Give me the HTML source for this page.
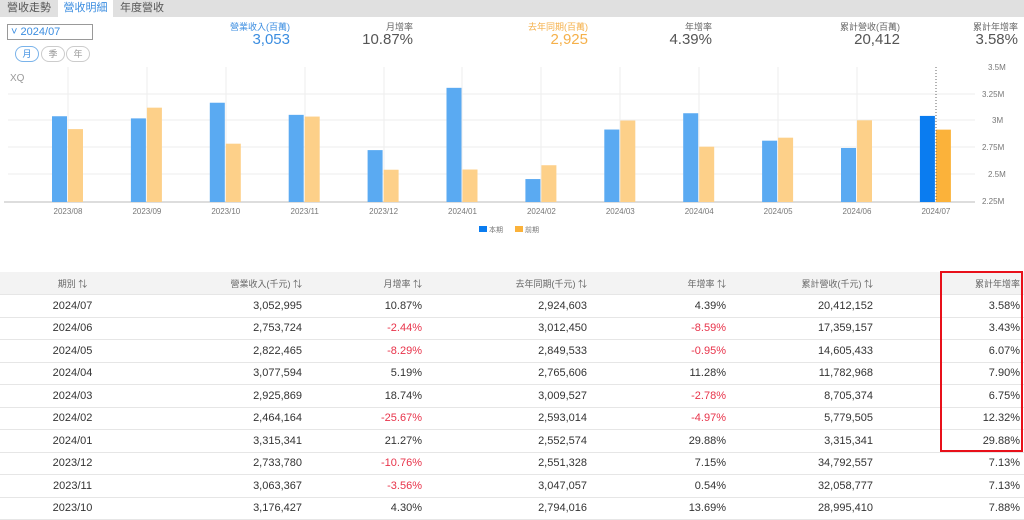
<!DOCTYPE html>
<html><head><meta charset="utf-8"><style>
body{margin:0;width:1024px;height:516px;overflow:hidden;background:#fff;font-family:"Liberation Sans","Noto Sans CJK TC",sans-serif;position:relative}
.a{position:absolute;white-space:nowrap}
.tabs{position:absolute;left:0;top:0;width:1024px;height:17px;background:#e0e0e0}
.tab{position:absolute;top:0;height:17px;line-height:17px;font-size:11px;color:#555;text-align:center}
.r{text-align:right}
.hdr{font-size:9px;color:#666}
.big{font-size:15px;color:#555}
table{position:absolute;left:0;top:272px;width:1024px;border-collapse:collapse;font-size:11px;color:#333}
td{height:21.5px;padding:0;border-bottom:1px solid #e6e6e6}
td:last-child{padding-right:4px}
tr.h td{background:#f3f3f3;font-size:9px;color:#666;height:22px}
.neg{color:#e8334a}
</style></head><body>
<div class="tabs">
<div class="tab" style="left:0;width:58px">營收走勢</div>
<div class="tab" style="left:58px;width:55px;background:#fff;color:#3b8de0">營收明細</div>
<div class="tab" style="left:113px;width:58px">年度營收</div>
</div>
<div class="a" style="left:7px;top:24px;width:84px;height:14px;border:1px solid #999;font-size:11px;line-height:14px;color:#3b8de0">&nbsp;˅ 2024/07</div>
<div class="a" style="left:15px;top:46px;width:22px;height:14px;border:1px solid #7ab3ea;border-radius:8px;font-size:9px;line-height:14px;text-align:center;color:#3b8de0">月</div>
<div class="a" style="left:41px;top:46px;width:22px;height:14px;border:1px solid #ccc;border-radius:8px;font-size:9px;line-height:14px;text-align:center;color:#999">季</div>
<div class="a" style="left:66px;top:46px;width:22px;height:14px;border:1px solid #ccc;border-radius:8px;font-size:9px;line-height:14px;text-align:center;color:#999">年</div>

<div class="a hdr r" style="left:190px;width:100px;top:20px;color:#3b8de0">營業收入(百萬)</div>
<div class="a big r" style="left:190px;width:100px;top:31px;color:#3b8de0">3,053</div>
<div class="a hdr r" style="left:313px;width:100px;top:20px">月增率</div>
<div class="a big r" style="left:313px;width:100px;top:31px">10.87%</div>
<div class="a hdr r" style="left:488px;width:100px;top:20px;color:#f5b04a">去年同期(百萬)</div>
<div class="a big r" style="left:488px;width:100px;top:31px;color:#f5b04a">2,925</div>
<div class="a hdr r" style="left:612px;width:100px;top:20px">年增率</div>
<div class="a big r" style="left:612px;width:100px;top:31px">4.39%</div>
<div class="a hdr r" style="left:800px;width:100px;top:20px">累計營收(百萬)</div>
<div class="a big r" style="left:800px;width:100px;top:31px">20,412</div>
<div class="a hdr r" style="left:918px;width:100px;top:20px">累計年增率</div>
<div class="a big r" style="left:918px;width:100px;top:31px">3.58%</div>

<svg class="a" style="left:0;top:0" width="1024" height="270" font-family="Liberation Sans,Noto Sans CJK TC,sans-serif">
<text x="10" y="81" font-size="10" fill="#999">XQ</text>
<g stroke="#eee">
<line x1="8" y1="94" x2="975" y2="94"/><line x1="8" y1="120" x2="975" y2="120"/><line x1="8" y1="147" x2="975" y2="147"/><line x1="8" y1="174" x2="975" y2="174"/>
<line x1="68" y1="67" x2="68" y2="201"/><line x1="147" y1="67" x2="147" y2="201"/><line x1="226" y1="67" x2="226" y2="201"/><line x1="305" y1="67" x2="305" y2="201"/><line x1="384" y1="67" x2="384" y2="201"/><line x1="462" y1="67" x2="462" y2="201"/><line x1="541" y1="67" x2="541" y2="201"/><line x1="620" y1="67" x2="620" y2="201"/><line x1="699" y1="67" x2="699" y2="201"/><line x1="778" y1="67" x2="778" y2="201"/><line x1="857" y1="67" x2="857" y2="201"/>
</g>
<line x1="4" y1="202" x2="975" y2="202" stroke="#bbb"/>
<g font-size="8" fill="#777">
<text x="988" y="70">3.5M</text><text x="982" y="97">3.25M</text><text x="992" y="123">3M</text><text x="982" y="150">2.75M</text><text x="988" y="177">2.5M</text><text x="982" y="204">2.25M</text>
</g>
<g id="bars"></g>
<line x1="936" y1="67" x2="936" y2="202" stroke="#666" stroke-dasharray="1,2"/>
<g font-size="8" fill="#777" text-anchor="middle" id="xl"></g>
<rect x="479" y="226" width="8" height="6" fill="#0a7cf0"/><text x="489" y="232" font-size="7" fill="#777">本期</text>
<rect x="515" y="226" width="8" height="6" fill="#fbb23a"/><text x="525" y="232" font-size="7" fill="#777">前期</text>
</svg>
<script>
var cur=[3.05,3.03,3.176,3.063,2.734,3.315,2.464,2.926,3.078,2.822,2.754,3.053];
var prv=[2.93,3.13,2.794,3.047,2.551,2.553,2.593,3.010,2.766,2.850,3.012,2.925];
var lab=["2023/08","2023/09","2023/10","2023/11","2023/12","2024/01","2024/02","2024/03","2024/04","2024/05","2024/06","2024/07"];
var s="",t="";
function y(v){return 202-(v-2.25)/0.25*26.8;}
for(var i=0;i<12;i++){var c=68+i*78.9;var l=i==11;
s+='<rect x="'+(c-16)+'" y="'+y(cur[i])+'" width="15" height="'+(202-y(cur[i]))+'" fill="'+(l?'#0a7cf0':'#5aaaf2')+'"/>';
s+='<rect x="'+(c)+'" y="'+y(prv[i])+'" width="15" height="'+(202-y(prv[i]))+'" fill="'+(l?'#fbb23a':'#fdd089')+'"/>';
t+='<text x="'+c+'" y="214">'+lab[i]+'</text>';}
document.getElementById('bars').innerHTML=s;document.getElementById('xl').innerHTML=t;
</script>

<table>
<colgroup><col style="width:145px"><col style="width:157px"><col style="width:120px"><col style="width:165px"><col style="width:139px"><col style="width:147px"><col style="width:151px"></colgroup>
<tr class="h"><td style="text-align:center">期別 ⇅</td><td class="r">營業收入(千元) ⇅</td><td class="r">月增率 ⇅</td><td class="r">去年同期(千元) ⇅</td><td class="r">年增率 ⇅</td><td class="r">累計營收(千元) ⇅</td><td class="r">累計年增率</td></tr>
<tr><td style="text-align:center">2024/07</td><td class="r">3,052,995</td><td class="r">10.87%</td><td class="r">2,924,603</td><td class="r">4.39%</td><td class="r">20,412,152</td><td class="r">3.58%</td></tr>
<tr><td style="text-align:center">2024/06</td><td class="r">2,753,724</td><td class="r neg">-2.44%</td><td class="r">3,012,450</td><td class="r neg">-8.59%</td><td class="r">17,359,157</td><td class="r">3.43%</td></tr>
<tr><td style="text-align:center">2024/05</td><td class="r">2,822,465</td><td class="r neg">-8.29%</td><td class="r">2,849,533</td><td class="r neg">-0.95%</td><td class="r">14,605,433</td><td class="r">6.07%</td></tr>
<tr><td style="text-align:center">2024/04</td><td class="r">3,077,594</td><td class="r">5.19%</td><td class="r">2,765,606</td><td class="r">11.28%</td><td class="r">11,782,968</td><td class="r">7.90%</td></tr>
<tr><td style="text-align:center">2024/03</td><td class="r">2,925,869</td><td class="r">18.74%</td><td class="r">3,009,527</td><td class="r neg">-2.78%</td><td class="r">8,705,374</td><td class="r">6.75%</td></tr>
<tr><td style="text-align:center">2024/02</td><td class="r">2,464,164</td><td class="r neg">-25.67%</td><td class="r">2,593,014</td><td class="r neg">-4.97%</td><td class="r">5,779,505</td><td class="r">12.32%</td></tr>
<tr><td style="text-align:center">2024/01</td><td class="r">3,315,341</td><td class="r">21.27%</td><td class="r">2,552,574</td><td class="r">29.88%</td><td class="r">3,315,341</td><td class="r">29.88%</td></tr>
<tr><td style="text-align:center">2023/12</td><td class="r">2,733,780</td><td class="r neg">-10.76%</td><td class="r">2,551,328</td><td class="r">7.15%</td><td class="r">34,792,557</td><td class="r">7.13%</td></tr>
<tr><td style="text-align:center">2023/11</td><td class="r">3,063,367</td><td class="r neg">-3.56%</td><td class="r">3,047,057</td><td class="r">0.54%</td><td class="r">32,058,777</td><td class="r">7.13%</td></tr>
<tr><td style="text-align:center">2023/10</td><td class="r">3,176,427</td><td class="r">4.30%</td><td class="r">2,794,016</td><td class="r">13.69%</td><td class="r">28,995,410</td><td class="r">7.88%</td></tr>
</table>
<div class="a" style="left:940px;top:271px;width:79px;height:177px;border:2px solid #e8101a"></div>
</body></html>
